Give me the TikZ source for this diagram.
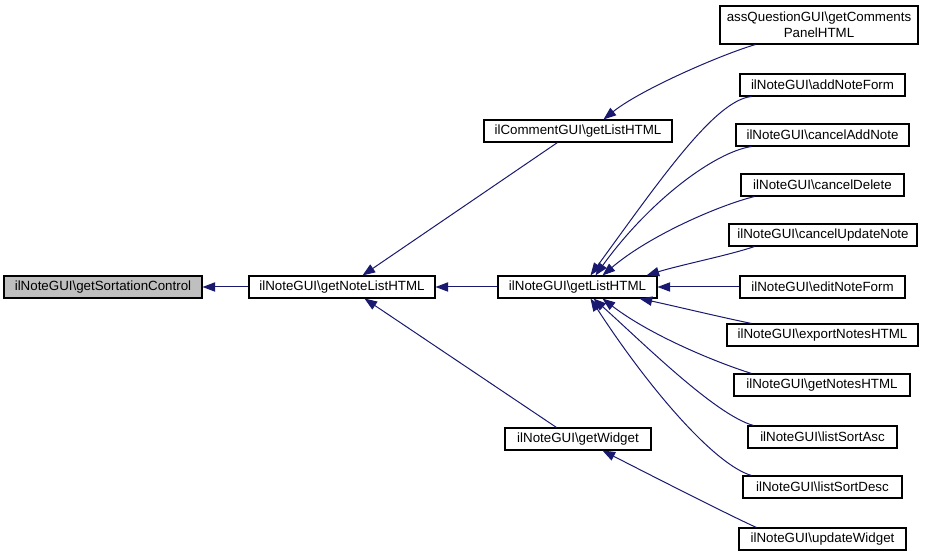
\documentclass[tikz,border=0pt]{standalone}
\usepackage{fontspec}
\setmainfont{Liberation Sans}
\usetikzlibrary{arrows.meta,calc}
\definecolor{edgeblue}{HTML}{191970}
\definecolor{boxgrey}{HTML}{BFBFBF}
\begin{document}
\begin{tikzpicture}[x=0.75pt,y=-0.75pt,
  fn/.style={draw=black,line width=0.8pt,fill=white,inner sep=0pt,minimum height=16.5pt,
    font=\fontsize{10pt}{12pt}\selectfont,align=center},
  cur/.style={fn,fill=boxgrey},
  call/.style={draw=edgeblue,line width=0.75pt,-{Triangle[length=9.5pt,width=7pt]}}]
\useasboundingbox (0,0) rectangle (931,559);
\node[cur,minimum width=148.5pt] (sort) at (103,287) {ilNoteGUI\textbackslash getSortationControl};
\node[fn,minimum width=139.5pt] (notelist) at (342,287) {ilNoteGUI\textbackslash getNoteListHTML};
\node[fn,minimum width=141pt] (comment) at (578,131) {ilCommentGUI\textbackslash getListHTML};
\node[fn,minimum width=119.25pt] (list) at (577.5,287) {ilNoteGUI\textbackslash getListHTML};
\node[fn,minimum width=109.5pt] (widget) at (578,439) {ilNoteGUI\textbackslash getWidget};
\node[fn,minimum width=148.5pt,minimum height=28.5pt] (assq) at (819,25) {assQuestionGUI\textbackslash getComments\\PanelHTML};
\node[fn,minimum width=123.75pt] (add) at (822.5,85) {ilNoteGUI\textbackslash addNoteForm};
\node[fn,minimum width=129.75pt] (canceladd) at (822.5,135) {ilNoteGUI\textbackslash cancelAddNote};
\node[fn,minimum width=122.25pt] (canceldel) at (822.5,185) {ilNoteGUI\textbackslash cancelDelete};
\node[fn,minimum width=141pt] (cancelupd) at (823,235) {ilNoteGUI\textbackslash cancelUpdateNote};
\node[fn,minimum width=123.75pt] (edit) at (822.5,287) {ilNoteGUI\textbackslash editNoteForm};
\node[fn,minimum width=143.25pt] (export) at (822.5,335) {ilNoteGUI\textbackslash exportNotesHTML};
\node[fn,minimum width=132pt] (getnotes) at (822,385) {ilNoteGUI\textbackslash getNotesHTML};
\node[fn,minimum width=111.75pt] (asc) at (822.5,437) {ilNoteGUI\textbackslash listSortAsc};
\node[fn,minimum width=119.25pt] (desc) at (822.5,487) {ilNoteGUI\textbackslash listSortDesc};
\node[fn,minimum width=125.25pt] (upd) at (822.5,539) {ilNoteGUI\textbackslash updateWidget};
% edges
\draw[call] (notelist.west) -- (sort.east);
\draw[call] (list.west) -- (notelist.east);
\draw[call] ($(comment.south west)+(74,0)$) -- ($(notelist.north west)+(114,0)$);
\draw[call] ($(widget.north west)+(52,0)$) -- ($(notelist.south west)+(116,0)$);
\draw[call] ($(assq.south west)+(36,0)$) .. controls (720,55) and (640,90) .. ($(comment.north west)+(120,0)$);
\draw[call] ($(add.south west)+(12,0)$) .. controls (715,100) and (660,180) .. ($(list.north west)+(93,0)$);
\draw[call] ($(canceladd.south west)+(16,0)$) .. controls (715,152) and (650,200) .. ($(list.north west)+(98,0)$);
\draw[call] ($(canceldel.south west)+(14,0)$) .. controls (720,205) and (650,235) .. ($(list.north west)+(105,0)$);
\draw[call] ($(cancelupd.south west)+(26,0)$) .. controls (730,255) and (680,265) .. ($(list.north west)+(149,0)$);
\draw[call] (edit.west) -- (list.east);
\draw[call] ($(export.north west)+(25,0)$) .. controls (720,317) and (670,305) .. ($(list.south west)+(142,0)$);
\draw[call] ($(getnotes.north west)+(18,0)$) .. controls (715,362) and (650,335) .. ($(list.south west)+(105,0)$);
\draw[call] ($(asc.north west)+(6,0)$) .. controls (715,415) and (640,340) .. ($(list.south west)+(96,0)$);
\draw[call] ($(desc.north west)+(9,0)$) .. controls (715,465) and (650,390) .. ($(list.south west)+(93,0)$);
\draw[call] ($(upd.north west)+(18,0)$) .. controls (735,518) and (660,480) .. ($(widget.south west)+(98,0)$);
\end{tikzpicture}
\end{document}
